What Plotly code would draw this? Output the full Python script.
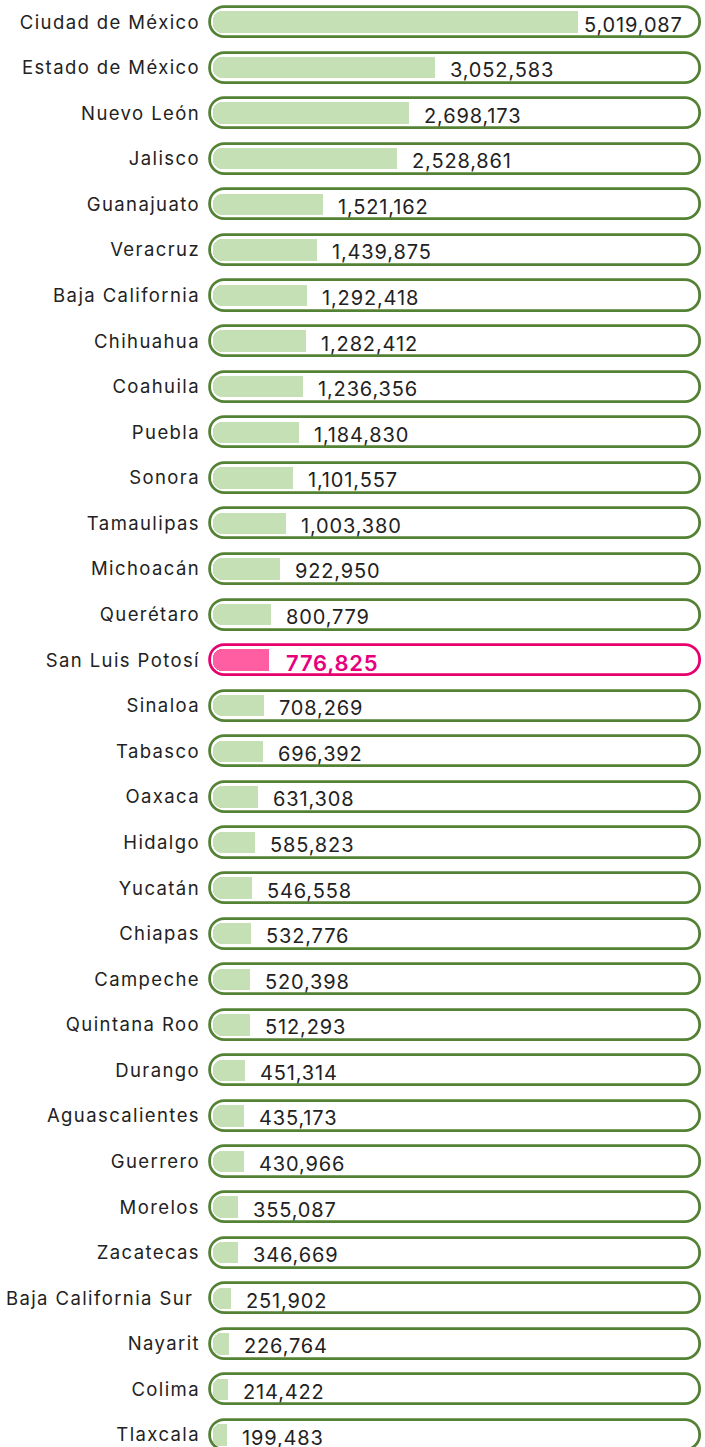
import plotly.graph_objects as go

states = ["Ciudad de México", "Estado de México", "Nuevo León", "Jalisco", "Guanajuato",
          "Veracruz", "Baja California", "Chihuahua", "Coahuila", "Puebla", "Sonora",
          "Tamaulipas", "Michoacán", "Querétaro", "San Luis Potosí", "Sinaloa", "Tabasco",
          "Oaxaca", "Hidalgo", "Yucatán", "Chiapas", "Campeche", "Quintana Roo", "Durango",
          "Aguascalientes", "Guerrero", "Morelos", "Zacatecas", "Baja California Sur",
          "Nayarit", "Colima", "Tlaxcala"]
values = [5019087, 3052583, 2698173, 2528861, 1521162, 1439875, 1292418, 1282412,
          1236356, 1184830, 1101557, 1003380, 922950, 800779, 776825, 708269, 696392,
          631308, 585823, 546558, 532776, 520398, 512293, 451314, 435173, 430966,
          355087, 346669, 251902, 226764, 214422, 199483]
highlight = "San Luis Potosí"
# label shown on the axis (the reference has a trailing space after this one)
label_overrides = {"Baja California Sur": "Baja California Sur&nbsp;"}

GREEN_LINE = "#548235"
GREEN_FILL = "#C5E0B4"
PINK_LINE = "#E8006F"
PINK_FILL = "#FF5FA2"
PINK_TEXT = "#E6007E"
TEXT_COL = "#222222"

X_MIN = -116756
X_MAX = 6764980
PILL_LEFT = -30200
PILL_RIGHT = 6703000

n = len(states)
is_hi = [s == highlight for s in states]
line_cols = [PINK_LINE if h else GREEN_LINE for h in is_hi]
fill_cols = [PINK_FILL if h else GREEN_FILL for h in is_hi]

fig = go.Figure()
# background pill (base given -> both ends rounded)
fig.add_trace(go.Bar(
    y=states, x=[PILL_RIGHT - PILL_LEFT] * n, base=[PILL_LEFT] * n, orientation="h",
    width=0.66, marker=dict(color="white", line=dict(color=line_cols, width=2.8),
                            cornerradius=15),
    hoverinfo="skip", showlegend=False))
# data bar, rounded piece
fig.add_trace(go.Bar(
    y=states, x=values, base=[0] * n, orientation="h",
    width=0.47, marker=dict(color=fill_cols, line=dict(width=0), cornerradius=9),
    customdata=values, hovertemplate="%{y}: %{customdata:,}<extra></extra>",
    showlegend=False))
# data bar, square right end
fig.add_trace(go.Bar(
    y=states, x=[v / 2 for v in values], base=[v / 2 for v in values], orientation="h",
    width=0.47, marker=dict(color=fill_cols, line=dict(width=0), cornerradius=0),
    hoverinfo="skip", showlegend=False))

vmax = max(values)
for s, v, h in zip(states, values, is_hi):
    fig.add_annotation(
        x=v, y=s, text=f"<span style='letter-spacing:{0.8 if h else 0.85}px'>{v:,}</span>",
        showarrow=False, xanchor="left", yanchor="middle",
        xshift=(4 if v == vmax else (15 if h else 13)), yshift=-2.5,
        font=dict(family="Inter", size=(22 if h else 20),
                  color=(PINK_TEXT if h else TEXT_COL),
                  weight=(600 if h else 400)))

ticktext = [f"<span style='letter-spacing:1.4px'>{label_overrides.get(s, s)}</span>"
            for s in states]

fig.update_layout(
    width=705, height=1447, barmode="overlay", bargap=0,
    margin=dict(l=204, r=0, t=0, b=0),
    paper_bgcolor="white", plot_bgcolor="white",
    xaxis=dict(range=[X_MIN, X_MAX], visible=False, showgrid=False, zeroline=False),
    yaxis=dict(range=[31.263, -0.483], showgrid=False, zeroline=False, showline=False,
               ticks="", ticklabelstandoff=3, tickmode="array",
               tickvals=states, ticktext=ticktext,
               tickfont=dict(family="Inter", size=18.5, color=TEXT_COL)),
)

fig.write_html("out.html", config={"displayModeBar": False},
               post_script="document.body.style.margin='0';document.body.style.overflow='hidden';")
